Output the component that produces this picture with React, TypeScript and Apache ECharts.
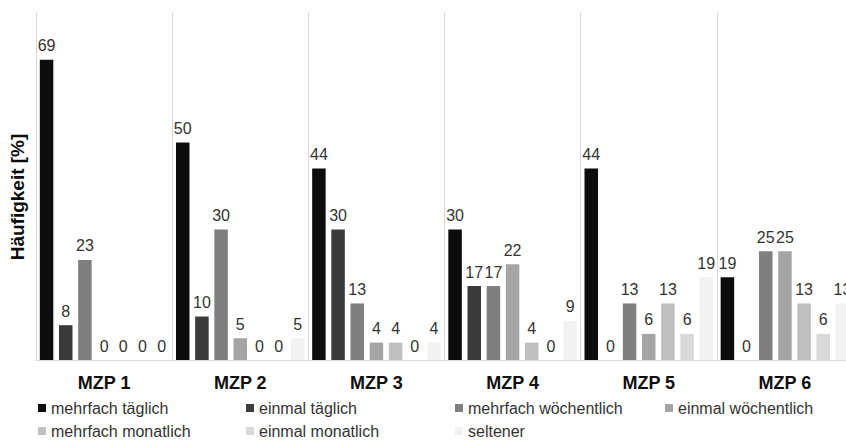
import React, { useEffect, useRef } from "react";
import * as echarts from "echarts";

const categories = ["MZP 1", "MZP 2", "MZP 3", "MZP 4", "MZP 5", "MZP 6"];

const seriesNames = [
  "mehrfach täglich",
  "einmal täglich",
  "mehrfach wöchentlich",
  "einmal wöchentlich",
  "mehrfach monatlich",
  "einmal monatlich",
  "seltener",
];

const mehrfachTaeglich = [69, 50, 44, 30, 44, 19];
const einmalTaeglich = [8, 10, 30, 17, 0, 0];
const mehrfachWoechentlich = [23, 30, 13, 17, 13, 25];
const einmalWoechentlich = [0, 5, 4, 22, 6, 25];
const mehrfachMonatlich = [0, 0, 4, 4, 13, 13];
const einmalMonatlich = [0, 0, 0, 0, 6, 6];
const seltener = [0, 5, 4, 9, 19, 13];

const seriesValues = [
  mehrfachTaeglich,
  einmalTaeglich,
  mehrfachWoechentlich,
  einmalWoechentlich,
  mehrfachMonatlich,
  einmalMonatlich,
  seltener,
];

const colors = ["#0d0d0d", "#3b3b3b", "#7f7f7f", "#a5a5a5", "#bfbfbf", "#d9d9d9", "#f2f2f2"];

const FONT = "'Liberation Sans', Arial, sans-serif";

// legend slot per series: [left, top]
const legendSlots: [number, number][] = [
  [38, 400],
  [246, 400],
  [455, 400],
  [665, 400],
  [38, 423],
  [246, 423],
  [455, 423],
];

export default function App() {
  const ref = useRef<HTMLDivElement>(null);

  useEffect(() => {
    document.body.style.margin = "0";
    document.body.style.overflow = "hidden";
    if (!ref.current) return;
    const chart = echarts.init(ref.current, undefined, { renderer: "svg" });

    const option: echarts.EChartsOption = {
      animation: false,
      backgroundColor: "#ffffff",
      textStyle: { fontFamily: FONT },
      // plot area runs past the right edge of the visible page
      grid: { left: 36, top: 12, width: 817, height: 348, containLabel: false },
      xAxis: {
        type: "category",
        data: categories,
        axisLine: { show: true, lineStyle: { color: "#d9d9d9", width: 1 } },
        axisTick: { show: false },
        splitLine: { show: true, lineStyle: { color: "#d9d9d9", width: 1 } },
        axisLabel: {
          fontFamily: FONT,
          fontSize: 18,
          fontWeight: "bold",
          color: "#0d0d0d",
          margin: 14,
        },
      },
      yAxis: {
        type: "value",
        min: 0,
        max: 80,
        show: false,
        splitLine: { show: false },
      },
      legend: seriesNames.map((name, i) => ({
        data: [name],
        left: legendSlots[i][0],
        top: legendSlots[i][1],
        padding: 0,
        itemWidth: 8,
        itemHeight: 8,
        icon: "rect",
        selectedMode: false,
        textStyle: { fontFamily: FONT, fontSize: 16, color: "#333333" },
      })),
      graphic: [
        {
          type: "text",
          x: 17,
          y: 197,
          rotation: Math.PI / 2,
          style: {
            text: "Häufigkeit [%]",
            fontFamily: FONT,
            fontSize: 19,
            fontWeight: "bold",
            fill: "#0d0d0d",
            align: "center",
            verticalAlign: "middle",
          },
        },
      ],
      series: seriesNames.map((name, i) => ({
        name,
        type: "bar",
        data: seriesValues[i],
        barWidth: 13.5,
        barGap: "42%",
        itemStyle: { color: colors[i] },
        label: {
          show: true,
          position: "top",
          distance: 6,
          fontFamily: FONT,
          fontSize: 16,
          color: "#333333",
        },
      })),
    };

    chart.setOption(option);
    return () => chart.dispose();
  }, []);

  return <div ref={ref} style={{ width: 870, height: 440 }} />;
}
